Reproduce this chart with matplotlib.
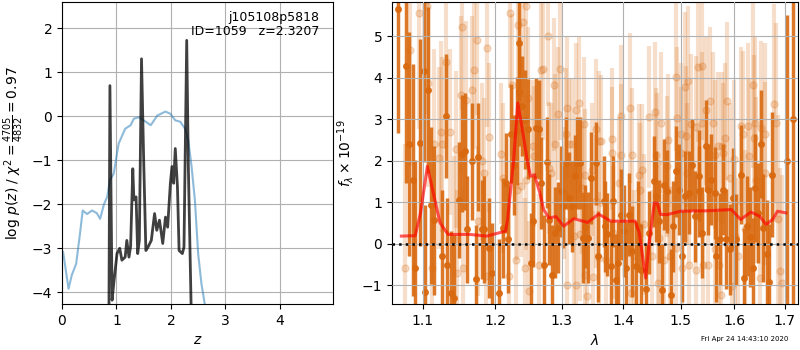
import matplotlib
matplotlib.use('Agg')
import matplotlib.pyplot as plt
from matplotlib.ticker import NullLocator, NullFormatter

# p(z) panel
prior_z = [0.0, 0.02, 0.12, 0.18, 0.26, 0.33, 0.38, 0.46, 0.55, 0.64, 0.70, 0.77,
           0.83, 0.88, 0.95, 1.04, 1.16, 1.26, 1.32, 1.41, 1.50, 1.63, 1.75, 1.90,
           1.99, 2.08, 2.17, 2.26, 2.32, 2.38, 2.44, 2.50, 2.56, 2.62, 2.75]
prior_logp = [-3.10, -3.08, -3.92, -3.61, -3.35, -2.67, -2.14, -2.22, -2.14, -2.20,
              -2.33, -2.00, -1.83, -1.45, -1.30, -0.62, -0.28, -0.20, -0.05, -0.02,
              -0.09, -0.20, 0.02, 0.11, 0.06, -0.09, -0.12, -0.28, -0.55, -1.15,
              -1.90, -3.12, -3.80, -4.26, -5.00]

pz_z = [0.86, 0.88, 0.92, 0.95, 1.01, 1.06, 1.10, 1.16, 1.19, 1.23, 1.26, 1.30,
        1.32, 1.36, 1.39, 1.42, 1.46, 1.50, 1.54, 1.58, 1.64, 1.70, 1.74, 1.79,
        1.85, 1.90, 1.94, 1.99, 2.02, 2.05, 2.08, 2.12, 2.15, 2.21, 2.24, 2.29,
        2.32, 2.37, 2.40]
pz_logp = [-5.00, 0.70, -4.18, -3.80, -3.12, -3.00, -3.27, -3.20, -2.82, -3.20,
           -2.95, -1.19, -1.90, -1.83, -3.12, -2.82, 1.31, -1.00, -3.05, -2.97,
           -2.82, -2.21, -2.59, -2.36, -2.89, -2.29, -2.52, -1.52, -1.14, -1.52,
           -0.73, -1.60, -3.05, -3.12, -2.97, 1.73, -1.14, -4.26, -6.00]

# spectrum panel: second (faint) set
faint_wave = [1.0771, 1.0837, 1.0955, 1.1057, 1.1070, 1.1125,
              1.1148, 1.1215, 1.1237, 1.1251, 1.1305, 1.1360,
              1.1420, 1.1442, 1.1465, 1.1511, 1.1535, 1.1544,
              1.1580, 1.1675, 1.1699, 1.1746, 1.1760, 1.1817,
              1.1841, 1.1863, 1.1888, 1.1913, 1.2091, 1.2110,
              1.2198, 1.2223, 1.2248, 1.2297, 1.2323, 1.2337,
              1.2371, 1.2405, 1.2435, 1.2446, 1.2453, 1.2486,
              1.2495, 1.2556, 1.2571, 1.2647, 1.2673, 1.2714,
              1.2785, 1.2801, 1.2827, 1.2878, 1.2889, 1.2941,
              1.2967, 1.3035, 1.3062, 1.3077, 1.3088, 1.3114,
              1.3167, 1.3193, 1.3220, 1.3228, 1.3273, 1.3284,
              1.3327, 1.3353, 1.3364, 1.3369, 1.3396, 1.3489,
              1.3499, 1.3543, 1.3553, 1.3588, 1.3598, 1.3620,
              1.3702, 1.3802, 1.3812, 1.3824, 1.3924, 1.3953,
              1.3963, 1.4105, 1.4122, 1.4139, 1.4179, 1.4265,
              1.4277, 1.4321, 1.4351, 1.4437, 1.4495, 1.4542,
              1.4565, 1.4582, 1.4595, 1.4612, 1.4642, 1.4701,
              1.4760, 1.4778, 1.4790, 1.4801, 1.4911, 1.4921,
              1.4940, 1.5001, 1.5011, 1.5024, 1.5073, 1.5103,
              1.5115, 1.5139, 1.5152, 1.5183, 1.5275, 1.5286,
              1.5305, 1.5386, 1.5395, 1.5405, 1.5466, 1.5498,
              1.5529, 1.5592, 1.5622, 1.5635, 1.5686, 1.5698,
              1.5749, 1.5762, 1.5781, 1.5812, 1.5864, 1.5909,
              1.5954, 1.5985, 1.6005, 1.6071, 1.6134, 1.6168,
              1.6199, 1.6266, 1.6278, 1.6364, 1.6376, 1.6396,
              1.6429, 1.6494, 1.6514, 1.6594, 1.6608, 1.6783,
              1.6810, 1.6864, 1.6897, 1.6932]
faint_flux = [-0.59, 4.67, 5.56, 5.72, 3.86, -0.60,
              2.39, 2.06, 2.69, 2.39, 4.37, 2.69,
              0.10, 2.27, -0.70, 3.59, 5.22, -0.59,
              3.47, 3.69, 4.18, 4.90, 0.54, 1.98,
              1.70, -0.77, 4.71, 2.56, 2.17, 1.58,
              -0.79, 5.56, 3.83, -0.39, 1.30, 5.28,
              1.38, 5.34, -0.59, 5.73, 1.54, 3.51,
              -1.15, 2.34, 2.10, -0.51, 4.19, 4.20,
              5.01, 1.82, 1.70, 3.83, 2.39, 3.13,
              4.20, 1.22, 2.63, 3.27, -0.99, 2.39,
              2.39, 0.19, 3.23, -0.99, 3.39, 0.22,
              1.34, 2.89, -0.75, 1.65, -1.27, 1.78,
              -0.81, 2.75, 1.02, -0.35, 2.47, 2.47,
              -0.39, 2.52, 2.18, 0.26, 1.46, 2.14,
              3.08, 3.27, -1.19, 2.14, -0.31, 1.66,
              1.30, 1.77, 0.47, 3.05, -0.31, 3.16,
              2.14, 1.94, -0.95, 0.14, 2.91, -0.40,
              1.86, 2.49, 1.30, -0.31, -0.10, 4.02,
              3.03, 2.65, 2.18, -0.59, 3.78, 2.59,
              1.70, 3.93, -0.51, 2.88, 2.81, -0.63,
              4.25, 4.29, 2.91, -0.51, 3.21, -0.51,
              3.43, 2.91, 2.14, -0.14, 2.34, -0.51,
              -1.23, 2.34, 2.18, 2.55, 3.43, 1.58,
              -1.03, 2.04, 0.18, -0.31, 2.83, 2.63,
              0.35, 2.84, 2.10, 3.83, 2.55, 2.91,
              1.54, -0.83, 2.79, 1.69, 2.63, 3.37,
              2.91, 0.60, -0.67, -0.95]
faint_err = [3.0, 2.8, 2.8, 2.6, 2.5, 2.4,
             2.3, 2.2, 2.2, 2.1, 2.1, 2.0,
             2.0, 1.9, 2.0, 1.9, 2.0, 1.9,
             1.9, 1.8, 1.9, 1.8, 1.8, 1.9,
             1.8, 1.8, 1.9, 1.8, 1.7, 1.8,
             1.7, 1.8, 1.7, 1.8, 1.7, 1.8,
             1.7, 1.8, 1.7, 1.8, 1.7, 1.7,
             1.7, 1.6, 1.7, 1.7, 1.6, 1.7,
             1.7, 1.6, 1.7, 1.6, 1.7, 1.6,
             1.7, 1.6, 1.6, 1.7, 1.6, 1.6,
             1.6, 1.7, 1.6, 1.7, 1.6, 1.6,
             1.6, 1.6, 1.7, 1.6, 1.7, 1.6,
             1.6, 1.7, 1.6, 1.6, 1.7, 1.6,
             1.6, 1.7, 1.6, 1.6, 1.6, 1.7,
             1.7, 1.8, 1.7, 1.6, 1.6, 1.7,
             1.6, 1.6, 1.7, 1.7, 1.6, 1.7,
             1.6, 1.7, 1.6, 1.7, 1.7, 1.6,
             1.7, 1.6, 1.7, 1.6, 1.7, 1.8,
             1.7, 1.7, 1.6, 1.7, 1.8, 1.7,
             1.7, 1.8, 1.7, 1.7, 1.7, 1.8,
             1.8, 1.8, 1.7, 1.7, 1.8, 1.7,
             1.8, 1.7, 1.8, 1.7, 1.8, 1.7,
             1.8, 1.8, 1.7, 1.8, 1.9, 1.8,
             1.8, 1.9, 1.8, 1.9, 1.9, 2.0,
             1.9, 2.0, 1.9, 2.0, 2.0, 2.1,
             2.0, 2.1, 2.1, 2.2, 2.2, 2.4,
             2.4, 2.5, 2.5, 2.6]

# spectrum panel: main set
main_wave = [1.0677, 1.0781, 1.0824, 1.0868, 1.0902, 1.0965,
             1.1014, 1.1035, 1.1072, 1.1115, 1.1151, 1.1260,
             1.1305, 1.1328, 1.1373, 1.1419, 1.1489, 1.1525,
             1.1572, 1.1605, 1.1675, 1.1722, 1.1760, 1.1807,
             1.1841, 1.1913, 1.1950, 1.2061, 1.2110, 1.2164,
             1.2188, 1.2233, 1.2272, 1.2312, 1.2346, 1.2356,
             1.2397, 1.2435, 1.2481, 1.2521, 1.2556, 1.2607,
             1.2647, 1.2684, 1.2724, 1.2776, 1.2800, 1.2843,
             1.2894, 1.2936, 1.2988, 1.3025, 1.3072, 1.3113,
             1.3156, 1.3208, 1.3247, 1.3289, 1.3337, 1.3369,
             1.3424, 1.3461, 1.3543, 1.3571, 1.3675, 1.3691,
             1.3729, 1.3785, 1.3823, 1.3869, 1.3912, 1.3953,
             1.4009, 1.4037, 1.4093, 1.4149, 1.4207, 1.4251,
             1.4292, 1.4380, 1.4437, 1.4525, 1.4565, 1.4612,
             1.4660, 1.4701, 1.4760, 1.4820, 1.4862, 1.4921,
             1.4970, 1.5019, 1.5079, 1.5152, 1.5201, 1.5262,
             1.5323, 1.5336, 1.5386, 1.5466, 1.5498, 1.5560,
             1.5622, 1.5654, 1.5716, 1.5774, 1.5845, 1.5909,
             1.5973, 1.6037, 1.6134, 1.6187, 1.6252, 1.6310,
             1.6364, 1.6409, 1.6462, 1.6514, 1.6562, 1.6648,
             1.6688, 1.6743, 1.7035, 1.7173]
main_flux = [5.66, 4.27, 2.39, 1.54, -0.58, 2.43,
             4.17, -1.16, 3.69, 0.92, 0.56, -0.31,
             3.07, -0.51, -1.20, -1.30, 1.06, 2.17,
             2.22, 0.34, 1.98, -0.85, 2.09, 0.34,
             0.34, -0.10, -0.70, -1.18, 0.38, 1.46,
             0.10, 2.65, 1.90, 2.71, 4.84, 3.65,
             3.31, 2.99, 2.76, -0.46, 0.54, 2.79,
             2.75, 1.46, -0.51, 1.96, 0.58, -0.75,
             0.26, 0.38, 1.26, 0.90, 1.94, 1.10,
             0.90, 1.62, 1.94, 1.94, 0.14, 0.40,
             0.14, 1.58, 1.94, -0.31, 1.02, 0.42,
             0.22, -0.55, 1.02, -0.87, -0.47, 0.70,
             0.30, -0.59, 0.70, -0.19, -0.55, 0.42,
             -0.63, -1.10, 0.26, 1.50, 1.14, 0.54,
             -1.11, 1.42, 1.26, -1.23, 0.42, 1.74,
             1.30, -0.31, 1.14, 1.22, 1.90, 0.66,
             1.64, 1.26, 0.26, 2.36, 1.30, 1.54,
             1.22, -0.31, 0.11, 1.30, 0.11, -0.14,
             1.10, 0.10, 1.66, -0.83, 0.42, 0.16,
             -0.59, 1.34, 0.74, 2.39, 0.38, -0.24,
             -0.92, 1.66, 2.00, 3.00]
main_err = [3.0, 2.8, 2.7, 2.8, 2.6, 2.5,
            2.2, 2.1, 2.0, 1.9, 1.8, 1.6,
            1.5, 1.6, 1.5, 1.5, 1.4, 1.4,
            1.4, 1.3, 1.4, 1.3, 1.3, 1.2,
            1.3, 1.2, 1.2, 1.3, 1.2, 1.2,
            1.3, 1.2, 1.2, 1.3, 1.4, 1.3,
            1.2, 1.2, 1.2, 1.2, 1.1, 1.2,
            1.2, 1.1, 1.2, 1.1, 1.1, 1.2,
            1.1, 1.1, 1.1, 1.0, 1.1, 1.1,
            1.1, 1.0, 1.1, 1.1, 1.1, 1.0,
            1.1, 1.1, 1.0, 1.1, 1.1, 1.1,
            1.0, 1.1, 1.1, 1.1, 1.0, 1.1,
            1.1, 1.1, 1.0, 1.1, 1.1, 1.1,
            1.1, 1.1, 1.0, 1.1, 1.1, 1.0,
            1.1, 1.1, 1.0, 1.1, 1.1, 1.1,
            1.1, 1.1, 1.1, 1.0, 1.1, 1.1,
            1.1, 1.1, 1.1, 1.1, 1.1, 1.1,
            1.1, 1.1, 1.1, 1.1, 1.2, 1.1,
            1.2, 1.1, 1.2, 1.2, 1.2, 1.2,
            1.2, 1.3, 1.2, 1.3, 1.3, 1.3,
            1.4, 1.5, 3.5, 6.0]

# best-fit model
model_wave = [1.072, 1.090, 1.097, 1.106, 1.114, 1.123, 1.134, 1.164, 1.188, 1.215,
              1.218, 1.227, 1.233, 1.239, 1.247, 1.252, 1.258, 1.266, 1.272, 1.280,
              1.291, 1.303, 1.319, 1.341, 1.359, 1.379, 1.401, 1.420, 1.427, 1.438,
              1.444, 1.453, 1.458, 1.464, 1.476, 1.500, 1.549, 1.594, 1.612, 1.632,
              1.649, 1.662, 1.675, 1.685, 1.702]
model_flux = [0.18, 0.19, 0.74, 1.86, 1.22, 0.50, 0.22, 0.22, 0.18, 0.30,
              0.58, 2.02, 3.39, 2.83, 2.02, 1.62, 1.66, 1.23, 0.82, 0.62,
              0.65, 0.42, 0.60, 0.51, 0.71, 0.54, 0.54, 0.54, 0.26, -0.83,
              0.02, 0.98, 0.98, 0.70, 0.70, 0.78, 0.79, 0.82, 0.58, 0.76,
              0.66, 0.46, 0.58, 0.78, 0.74]

lam_ticks = [1.1, 1.2, 1.3, 1.4, 1.5, 1.6, 1.7]

spec_color = '#d9690f'

fig = plt.figure(figsize=(8, 3.5), dpi=100)
ax1 = fig.add_axes([0.0775, 0.131, 0.339, 0.863])
ax2 = fig.add_axes([0.49, 0.131, 0.5075, 0.863])

ax1.plot(prior_z, prior_logp, color='C0', alpha=0.5, lw=1.5)
ax1.plot(pz_z, pz_logp, color='k', alpha=0.75, lw=2)
ax1.set_xlim(0, 4.98)
ax1.set_ylim(-4.27, 2.6)
ax1.set_xticks([0, 1, 2, 3, 4])
ax1.set_yticks([-4, -3, -2, -1, 0, 1, 2])
ax1.grid()
ax1.set_xlabel(r'$z$')
ax1.set_ylabel(r'log $p(z)$ / $\chi^2=\frac{4705}{4832}=0.97$')
ax1.text(0.95, 0.97, 'j105108p5818\nID=1059   z=2.3207', transform=ax1.transAxes,
         ha='right', va='top', fontsize=9, linespacing=1.05)

ax2.errorbar(faint_wave, faint_flux, faint_err, color=spec_color, alpha=0.22,
             marker='o', ms=5, linestyle='None', elinewidth=3, zorder=1)
ax2.errorbar(main_wave, main_flux, main_err, color=spec_color, alpha=0.9,
             marker='o', ms=4, linestyle='None', elinewidth=2.5, zorder=2)
ax2.plot(model_wave, model_flux, color='r', alpha=0.65, lw=2.2, zorder=3)
ax2.axhline(0, color='k', linestyle=':', lw=1.8, zorder=4)
ax2.set_xscale('log')
ax2.set_xlim(1.06, 1.727)
ax2.set_ylim(-1.46, 5.82)
ax2.set_xticks(lam_ticks)
ax2.set_xticklabels([str(t) for t in lam_ticks])
ax2.xaxis.set_minor_locator(NullLocator())
ax2.xaxis.set_minor_formatter(NullFormatter())
ax2.set_yticks([-1, 0, 1, 2, 3, 4, 5])
ax2.grid()
ax2.set_axisbelow(False)
ax2.set_xlabel(r'$\lambda$')
ax2.set_ylabel(r'$f_\lambda\times10^{-19}$')

fig.text(0.985, 0.022, 'Fri Apr 24 14:43:10 2020', ha='right', va='bottom', fontsize=5)

fig.savefig('out.png', dpi=100)
